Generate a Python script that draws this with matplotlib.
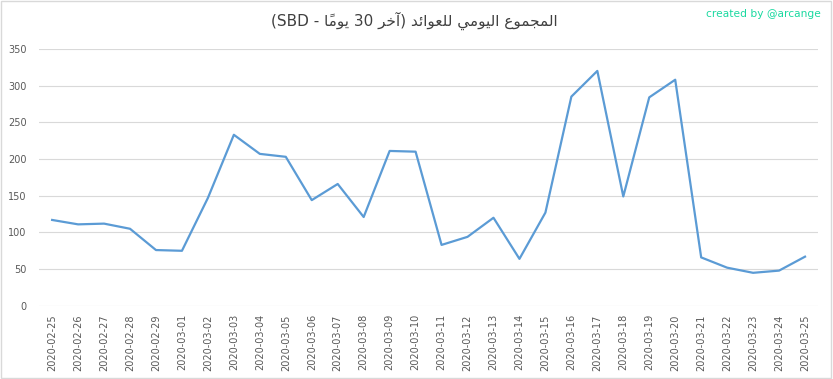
import matplotlib
matplotlib.use('Agg')
import matplotlib.pyplot as plt
from matplotlib.patches import Rectangle

dates = ['2020-02-25', '2020-02-26', '2020-02-27', '2020-02-28', '2020-02-29',
         '2020-03-01', '2020-03-02', '2020-03-03', '2020-03-04', '2020-03-05',
         '2020-03-06', '2020-03-07', '2020-03-08', '2020-03-09', '2020-03-10',
         '2020-03-11', '2020-03-12', '2020-03-13', '2020-03-14', '2020-03-15',
         '2020-03-16', '2020-03-17', '2020-03-18', '2020-03-19', '2020-03-20',
         '2020-03-21', '2020-03-22', '2020-03-23', '2020-03-24', '2020-03-25']
values = [117, 111, 112, 105, 76, 75, 147, 233, 207, 203,
          144, 166, 121, 211, 210, 83, 94, 120, 64, 127,
          285, 320, 149, 284, 308, 66, 52, 45, 48, 67]
yticks = [0, 50, 100, 150, 200, 250, 300, 350]

# arabic presentation forms: isolated, final, initial, medial
FORMS = {
    'ا': ('\uFE8D', '\uFE8E', None, None),
    'آ': ('\uFE81', '\uFE82', None, None),
    'د': ('\uFEA9', '\uFEAA', None, None),
    'ر': ('\uFEAD', '\uFEAE', None, None),
    'و': ('\uFEED', '\uFEEE', None, None),
    'ل': ('\uFEDD', '\uFEDE', '\uFEDF', '\uFEE0'),
    'م': ('\uFEE1', '\uFEE2', '\uFEE3', '\uFEE4'),
    'ج': ('\uFE9D', '\uFE9E', '\uFE9F', '\uFEA0'),
    'ع': ('\uFEC9', '\uFECA', '\uFECB', '\uFECC'),
    'ي': ('\uFEF1', '\uFEF2', '\uFEF3', '\uFEF4'),
    'ئ': ('\uFE89', '\uFE8A', '\uFE8B', '\uFE8C'),
    'خ': ('\uFEA5', '\uFEA6', '\uFEA7', '\uFEA8'),
}
LAMALEF = {'ا': ('\uFEFB', '\uFEFC'), 'آ': ('\uFEF5', '\uFEF6')}
MARKS = '\u064B'

def ar(word):
    # no bidi/shaping in matplotlib -> pick forms by hand, then reverse
    groups = []
    for ch in word:
        if ch in MARKS and groups:
            groups[-1][1] += ch
        else:
            groups.append([ch, ''])
    out = []
    i = 0
    prev_joins = False
    while i < len(groups):
        ch, mk = groups[i]
        if ch == 'ل' and i + 1 < len(groups) and groups[i + 1][0] in LAMALEF:
            lig = LAMALEF[groups[i + 1][0]][1 if prev_joins else 0]
            out.append(mk + groups[i + 1][1] + lig)
            prev_joins = False
            i += 2
            continue
        f = FORMS[ch]
        next_ok = f[2] is not None and i + 1 < len(groups)
        if prev_joins and next_ok:
            g = f[3]
        elif prev_joins:
            g = f[1]
        elif next_ok:
            g = f[2]
        else:
            g = f[0]
        out.append(mk + g)
        prev_joins = next_ok
        i += 1
    return ''.join(reversed(out))

title = '(SBD - ' + ar('يومًا') + ' 30 ' + ar('آخر') + ') ' + ar('للعوائد') + ' ' + ar('اليومي') + ' ' + ar('المجموع')

fig = plt.figure(figsize=(8.33, 3.79), dpi=100)
ax = fig.add_axes([0.047, 0.193, 0.935, 0.678])
ax.plot(range(len(values)), values, color='#5b9bd5', lw=1.6)

ax.set_xlim(-0.5, len(values) - 0.5)
ax.set_ylim(0, 350)
ax.set_yticks(yticks)
ax.set_xticks(range(len(dates)))
ax.set_xticklabels(dates, rotation=90)
ax.tick_params(axis='both', length=0, labelsize=7, colors='#595959')
ax.tick_params(axis='x', pad=6)
ax.tick_params(axis='y', pad=9)
for s in ax.spines.values():
    s.set_visible(False)
ax.grid(axis='y', color='#d9d9d9', lw=0.8)
ax.set_axisbelow(True)

fig.text(0.497, 0.945, title, ha='center', va='center', fontsize=11, color='#404040',
         family='DejaVu Sans')
fig.text(0.986, 0.962, 'created by @arcange', ha='right', va='center', fontsize=7.7, color='#1ad9a0')

fig.patches.append(Rectangle((0.001, 0.002), 0.997, 0.995, transform=fig.transFigure,
                             fill=False, ec='#d9d9d9', lw=1))
fig.savefig('out.png', dpi=100)
